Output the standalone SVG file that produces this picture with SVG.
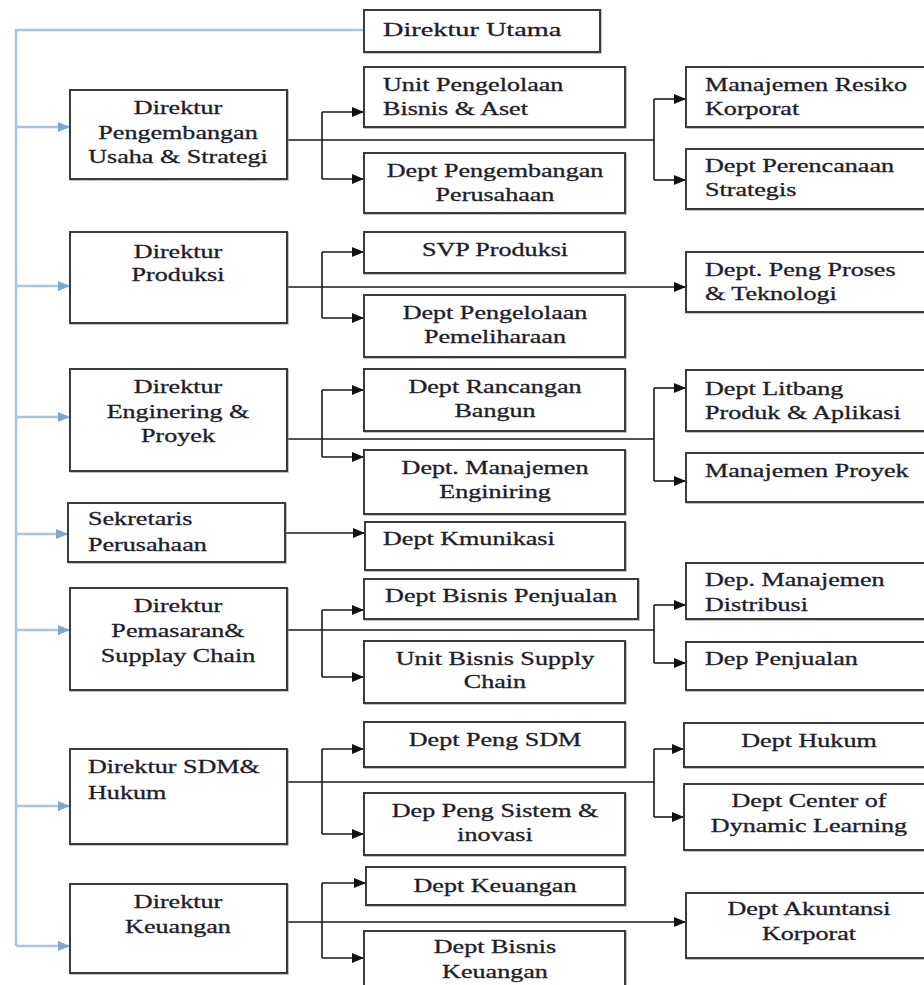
<svg xmlns="http://www.w3.org/2000/svg" width="924" height="985" viewBox="0 0 924 985">
<style>
.box{fill:#fff;stroke:#3a3a3a;stroke-width:2;filter:url(#sh)}
.t{font-family:"Liberation Serif","Times New Roman",serif;font-size:18px;fill:#1e1e2a;stroke:#1e1e2a;stroke-width:0.3}
.c{text-anchor:middle}
.ln{fill:none;stroke:#1a1a1a;stroke-width:1.6}
.bl{fill:none;stroke:#a9c3e0;stroke-width:2.6}
</style>
<defs>
<filter id="sh" x="-5%" y="-5%" width="110%" height="115%"><feDropShadow dx="0.8" dy="0.8" stdDeviation="0.7" flood-color="#808080" flood-opacity="0.6"/></filter>
<marker id="ah" viewBox="0 0 12 10" refX="12" refY="5" markerWidth="12" markerHeight="10" markerUnits="userSpaceOnUse" orient="auto"><path d="M0,0L12,5L0,10z" fill="#111"/></marker>
<marker id="bh" viewBox="0 0 12 10" refX="12" refY="5" markerWidth="12" markerHeight="10" markerUnits="userSpaceOnUse" orient="auto"><path d="M0,0L12,5L0,10z" fill="#7fa6d2"/></marker>
</defs>
<rect width="924" height="985" fill="#fff"/>

<g id="connectors">
<path class="bl" d="M364,30H16V946"/>
<path class="bl" d="M16,127H70" marker-end="url(#bh)"/>
<path class="bl" d="M16,286H70" marker-end="url(#bh)"/>
<path class="bl" d="M16,417H70" marker-end="url(#bh)"/>
<path class="bl" d="M16,534H68" marker-end="url(#bh)"/>
<path class="bl" d="M16,630H70" marker-end="url(#bh)"/>
<path class="bl" d="M16,806H70" marker-end="url(#bh)"/>
<path class="bl" d="M16,946H70" marker-end="url(#bh)"/>
<path class="ln" d="M287,140H654"/>
<path class="ln" d="M322,112V179"/>
<path class="ln" d="M322,112H364" marker-end="url(#ah)"/>
<path class="ln" d="M322,179H364" marker-end="url(#ah)"/>
<path class="ln" d="M654,99V180"/>
<path class="ln" d="M654,99H686" marker-end="url(#ah)"/>
<path class="ln" d="M654,180H686" marker-end="url(#ah)"/>
<path class="ln" d="M287,287H686" marker-end="url(#ah)"/>
<path class="ln" d="M322,252V318"/>
<path class="ln" d="M322,252H364" marker-end="url(#ah)"/>
<path class="ln" d="M322,318H364" marker-end="url(#ah)"/>
<path class="ln" d="M287,439H654"/>
<path class="ln" d="M322,390V457"/>
<path class="ln" d="M322,390H364" marker-end="url(#ah)"/>
<path class="ln" d="M322,457H364" marker-end="url(#ah)"/>
<path class="ln" d="M654,388V481"/>
<path class="ln" d="M654,388H686" marker-end="url(#ah)"/>
<path class="ln" d="M654,481H686" marker-end="url(#ah)"/>
<path class="ln" d="M285,533H365" marker-end="url(#ah)"/>
<path class="ln" d="M287,630H654"/>
<path class="ln" d="M322,610V677"/>
<path class="ln" d="M322,610H364" marker-end="url(#ah)"/>
<path class="ln" d="M322,677H364" marker-end="url(#ah)"/>
<path class="ln" d="M654,605V663"/>
<path class="ln" d="M654,605H686" marker-end="url(#ah)"/>
<path class="ln" d="M654,663H686" marker-end="url(#ah)"/>
<path class="ln" d="M287,782H654"/>
<path class="ln" d="M322,749V834"/>
<path class="ln" d="M322,749H364" marker-end="url(#ah)"/>
<path class="ln" d="M322,834H364" marker-end="url(#ah)"/>
<path class="ln" d="M654,749V817"/>
<path class="ln" d="M654,749H684" marker-end="url(#ah)"/>
<path class="ln" d="M654,817H684" marker-end="url(#ah)"/>
<path class="ln" d="M287,922H686" marker-end="url(#ah)"/>
<path class="ln" d="M322,883V958"/>
<path class="ln" d="M322,883H366" marker-end="url(#ah)"/>
<path class="ln" d="M322,958H364" marker-end="url(#ah)"/>
</g>

<g id="dirut"><rect class="box" x="364" y="10" width="236" height="42"/>
<text class="t" style="font-size:19px" transform="translate(383 36) scale(1.49 1)">Direktur Utama</text></g>

<g id="d1"><rect class="box" x="70" y="90" width="217" height="89"/>
<text class="t c" transform="translate(178 114) scale(1.45 1)">Direktur</text>
<text class="t c" transform="translate(178 139) scale(1.45 1)">Pengembangan</text>
<text class="t c" transform="translate(178 163) scale(1.45 1)">Usaha &amp; Strategi</text></g>

<g id="unit-pengelolaan"><rect class="box" x="364" y="67" width="261" height="60"/>
<text class="t" transform="translate(383 91) scale(1.45 1)">Unit Pengelolaan</text>
<text class="t" transform="translate(383 115) scale(1.45 1)">Bisnis &amp; Aset</text></g>

<g id="dept-pengembangan"><rect class="box" x="364" y="153" width="261" height="60"/>
<text class="t c" transform="translate(495 177) scale(1.45 1)">Dept Pengembangan</text>
<text class="t c" transform="translate(495 201) scale(1.45 1)">Perusahaan</text></g>

<g id="manajemen-resiko"><rect class="box" x="686" y="67" width="250" height="60"/>
<text class="t" transform="translate(705 91) scale(1.45 1)">Manajemen Resiko</text>
<text class="t" transform="translate(705 115) scale(1.45 1)">Korporat</text></g>

<g id="dept-perencanaan"><rect class="box" x="686" y="149" width="250" height="60"/>
<text class="t" transform="translate(705 172) scale(1.45 1)">Dept Perencanaan</text>
<text class="t" transform="translate(705 196) scale(1.45 1)">Strategis</text></g>

<g id="d2"><rect class="box" x="70" y="232" width="217" height="91"/>
<text class="t c" transform="translate(178 258) scale(1.45 1)">Direktur</text>
<text class="t c" transform="translate(178 281) scale(1.45 1)">Produksi</text></g>

<g id="svp-produksi"><rect class="box" x="364" y="232" width="261" height="41"/>
<text class="t c" transform="translate(495 256) scale(1.45 1)">SVP Produksi</text></g>

<g id="dept-pemeliharaan"><rect class="box" x="364" y="295" width="261" height="62"/>
<text class="t c" transform="translate(495 319) scale(1.45 1)">Dept Pengelolaan</text>
<text class="t c" transform="translate(495 343) scale(1.45 1)">Pemeliharaan</text></g>

<g id="dept-proses"><rect class="box" x="686" y="252" width="250" height="60"/>
<text class="t" transform="translate(705 276) scale(1.45 1)">Dept. Peng Proses</text>
<text class="t" transform="translate(705 300) scale(1.45 1)">&amp; Teknologi</text></g>

<g id="d3"><rect class="box" x="70" y="369" width="217" height="102"/>
<text class="t c" transform="translate(178 393) scale(1.45 1)">Direktur</text>
<text class="t c" transform="translate(178 418) scale(1.45 1)">Enginering &amp;</text>
<text class="t c" transform="translate(178 442) scale(1.45 1)">Proyek</text></g>

<g id="dept-rancangan"><rect class="box" x="364" y="369" width="261" height="62"/>
<text class="t c" transform="translate(495 393) scale(1.45 1)">Dept Rancangan</text>
<text class="t c" transform="translate(495 417) scale(1.45 1)">Bangun</text></g>

<g id="dept-enginiring"><rect class="box" x="364" y="450" width="261" height="64"/>
<text class="t c" transform="translate(495 474) scale(1.45 1)">Dept. Manajemen</text>
<text class="t c" transform="translate(495 498) scale(1.45 1)">Enginiring</text></g>

<g id="dept-litbang"><rect class="box" x="686" y="370" width="250" height="61"/>
<text class="t" transform="translate(705 395) scale(1.45 1)">Dept Litbang</text>
<text class="t" transform="translate(705 419) scale(1.45 1)">Produk &amp; Aplikasi</text></g>

<g id="manajemen-proyek"><rect class="box" x="686" y="453" width="250" height="49"/>
<text class="t" transform="translate(705 477) scale(1.45 1)">Manajemen Proyek</text></g>

<g id="sekretaris"><rect class="box" x="68" y="503" width="217" height="59"/>
<text class="t" transform="translate(88 525) scale(1.45 1)">Sekretaris</text>
<text class="t" transform="translate(88 551) scale(1.45 1)">Perusahaan</text></g>

<g id="dept-kmunikasi"><rect class="box" x="365" y="522" width="260" height="48"/>
<text class="t" transform="translate(383 545) scale(1.45 1)">Dept Kmunikasi</text></g>

<g id="d5"><rect class="box" x="70" y="588" width="217" height="102"/>
<text class="t c" transform="translate(178 612) scale(1.45 1)">Direktur</text>
<text class="t c" transform="translate(178 637) scale(1.45 1)">Pemasaran&amp;</text>
<text class="t c" transform="translate(178 662) scale(1.45 1)">Supplay Chain</text></g>

<g id="dept-bisnis-penjualan"><rect class="box" x="364" y="579" width="274" height="40"/>
<text class="t c" transform="translate(501 602) scale(1.45 1)">Dept Bisnis Penjualan</text></g>

<g id="unit-supply-chain"><rect class="box" x="364" y="641" width="261" height="62"/>
<text class="t c" transform="translate(495 665) scale(1.45 1)">Unit Bisnis Supply</text>
<text class="t c" transform="translate(495 688) scale(1.45 1)">Chain</text></g>

<g id="dep-distribusi"><rect class="box" x="686" y="563" width="250" height="56"/>
<text class="t" transform="translate(705 586) scale(1.45 1)">Dep. Manajemen</text>
<text class="t" transform="translate(705 611) scale(1.45 1)">Distribusi</text></g>

<g id="dep-penjualan"><rect class="box" x="686" y="642" width="250" height="48"/>
<text class="t" transform="translate(705 665) scale(1.45 1)">Dep Penjualan</text></g>

<g id="d6"><rect class="box" x="70" y="749" width="217" height="95"/>
<text class="t" transform="translate(88 773) scale(1.45 1)">Direktur SDM&amp;</text>
<text class="t" transform="translate(88 799) scale(1.45 1)">Hukum</text></g>

<g id="dept-sdm"><rect class="box" x="364" y="722" width="261" height="45"/>
<text class="t c" transform="translate(495 746) scale(1.45 1)">Dept Peng SDM</text></g>

<g id="dep-sistem"><rect class="box" x="364" y="793" width="261" height="62"/>
<text class="t c" transform="translate(495 817) scale(1.45 1)">Dep Peng Sistem &amp;</text>
<text class="t c" transform="translate(495 841) scale(1.45 1)">inovasi</text></g>

<g id="dept-hukum"><rect class="box" x="684" y="723" width="252" height="44"/>
<text class="t c" transform="translate(809 747) scale(1.45 1)">Dept Hukum</text></g>

<g id="dept-learning"><rect class="box" x="684" y="784" width="252" height="66"/>
<text class="t c" transform="translate(809 807) scale(1.45 1)">Dept Center of</text>
<text class="t c" transform="translate(809 832) scale(1.45 1)">Dynamic Learning</text></g>

<g id="d7"><rect class="box" x="70" y="884" width="217" height="89"/>
<text class="t c" transform="translate(178 908) scale(1.45 1)">Direktur</text>
<text class="t c" transform="translate(178 933) scale(1.45 1)">Keuangan</text></g>

<g id="dept-keuangan"><rect class="box" x="366" y="867" width="259" height="38"/>
<text class="t c" transform="translate(495 892) scale(1.45 1)">Dept Keuangan</text></g>

<g id="dept-bisnis-keuangan"><rect class="box" x="364" y="931" width="261" height="66"/>
<text class="t c" transform="translate(495 953) scale(1.45 1)">Dept Bisnis</text>
<text class="t c" transform="translate(495 978) scale(1.45 1)">Keuangan</text></g>

<g id="dept-akuntansi"><rect class="box" x="686" y="893" width="250" height="65"/>
<text class="t c" transform="translate(809 915) scale(1.45 1)">Dept Akuntansi</text>
<text class="t c" transform="translate(809 940) scale(1.45 1)">Korporat</text></g>
</svg>
